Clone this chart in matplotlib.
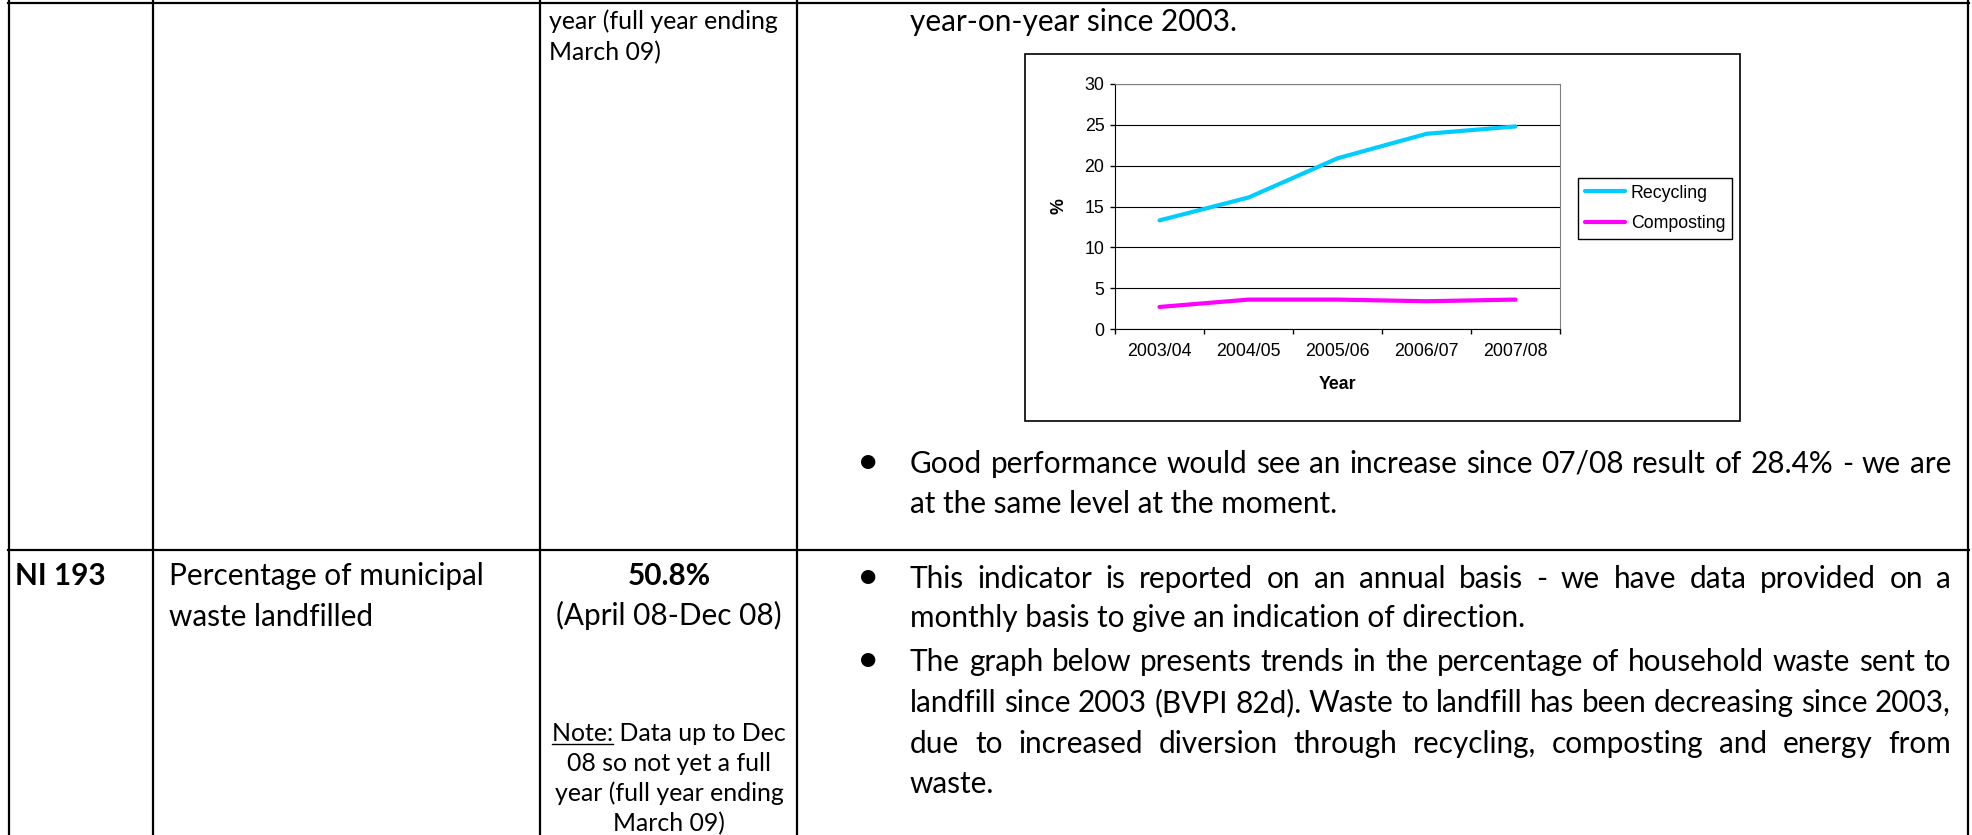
import matplotlib
matplotlib.use("Agg")
import matplotlib.pyplot as plt
from matplotlib.patches import Rectangle

# chart data
years = ["2003/04", "2004/05", "2005/06", "2006/07", "2007/08"]
recycling = [13.3, 16.1, 20.9, 23.9, 24.8]
composting = [2.7, 3.6, 3.6, 3.4, 3.6]
y_ticks = [0, 5, 10, 15, 20, 25, 30]

# table text
row1_target = ["year (full year ending", "March 09)"]
row1_comment_top = "year-on-year since 2003."
row1_comment = ["Good performance would see an increase since 07/08 result of 28.4% - we are",
                "at the same level at the moment."]
row2_id = "NI 193"
row2_name = ["Percentage of municipal", "waste landfilled"]
row2_value = "50.8%"
row2_period = "(April 08-Dec 08)"
row2_note = ["Data up to Dec", "08 so not yet a full", "year (full year ending", "March 09)"]
row2_comment = ["This indicator is reported on an annual basis - we have data provided on a",
                "monthly basis to give an indication of direction.",
                "The graph below presents trends in the percentage of household waste sent to",
                "landfill since 2003 (BVPI 82d).  Waste to landfill has been decreasing since 2003,",
                "due to increased diversion through recycling, composting and energy from",
                "waste."]

plt.rcParams['font.family'] = ['Liberation Sans', 'DejaVu Sans']
W, H = 1972, 835
fig = plt.figure(figsize=(W / 100, H / 100), dpi=100)
fig.patch.set_facecolor("white")
page = fig.add_axes([0, 0, 1, 1], zorder=0)
page.set_xlim(0, W)
page.set_ylim(H, 0)
page.axis("off")
rend = fig.canvas.get_renderer()
body = "Lato"


def width(s, size, family=body, **kw):
    t = page.text(0, 0, s, fontsize=size, family=family, **kw)
    w = t.get_window_extent(rend).width
    t.remove()
    return w


main_fs = 20 * 616 / width(row2_comment[1], 20)
note_fs = 20 * 229 / width(row2_note[2], 20)
chart_fs = 20 * 77 / width("Recycling", 20, family="Liberation Sans")


def put(x, y, s, size=None, ha="left", **kw):
    return page.text(x, y, s, fontsize=size or main_fs, family=body, ha=ha, va="baseline", **kw)


def justify(x0, x1, y, s):
    words = s.split()
    ws = [width(w, main_fs) for w in words]
    gap = (x1 - x0 - sum(ws)) / (len(words) - 1)
    x = x0
    for w, wd in zip(words, ws):
        put(x, y, w)
        x += wd + gap


def bullet(y):
    put(868, y, "\u2022", size=main_fs * 1.3, ha="center")


# table grid
lw = 1.6
for xv in [9, 153, 540, 797, 1968]:
    page.plot([xv, xv], [0, H], color="black", lw=lw)
for yv in [3, 550]:
    page.plot([8, 1969], [yv, yv], color="black", lw=lw)

# row 1
put(549, 29, row1_target[0], size=note_fs)
put(549, 60, row1_target[1], size=note_fs)
put(910, 31, row1_comment_top)
bullet(473)
justify(910, 1951, 473, row1_comment[0])
put(910, 513, row1_comment[1])

# row 2
put(15, 585, row2_id, fontweight="bold")
put(169, 585, row2_name[0])
put(169, 626, row2_name[1])
put(669, 585, row2_value, ha="center", fontweight="bold")
put(669, 625, row2_period, ha="center")
note_y = [741, 771, 801, 831]
full = "Note: " + row2_note[0]
fw = width(full, note_fs)
put(669, note_y[0], full, size=note_fs, ha="center")
nx = 669 - fw / 2
page.plot([nx, nx + width("Note:", note_fs)], [note_y[0] + 3, note_y[0] + 3], color="black", lw=1)
for yy, s in zip(note_y[1:], row2_note[1:]):
    put(669, yy, s, size=note_fs, ha="center")

comment_y = [588, 627, 671, 712, 753, 793]
justified = [True, False, True, True, True, False]
for yy, s, j in zip(comment_y, row2_comment, justified):
    if j:
        justify(910, 1951, yy, s)
    else:
        put(910, yy, s)
bullet(comment_y[0])
bullet(comment_y[2])

# chart frame
page.add_patch(Rectangle((1025, 54), 715, 367, fill=False, lw=1.2, edgecolor="black"))

ax = fig.add_axes([1115 / W, 1 - 329 / H, 445 / W, 245 / H], zorder=3)
xs = list(range(len(years)))
ax.plot(xs, recycling, color="#00CCFF", lw=3, label="Recycling", solid_capstyle="round")
ax.plot(xs, composting, color="#FF00FF", lw=3, label="Composting", solid_capstyle="round")
ax.set_xlim(-0.5, len(years) - 0.5)
ax.set_ylim(0, 30)
ax.set_yticks(y_ticks)
ax.set_xticks([i - 0.5 for i in range(len(years) + 1)])
ax.set_xticklabels([])
ax.set_xticks(xs, minor=True)
ax.set_xticklabels(years, minor=True)
ax.tick_params(axis="both", which="major", length=3.6, width=1, direction="out",
               labelsize=chart_fs, pad=4)
ax.tick_params(axis="x", which="minor", length=0, pad=10, labelsize=chart_fs)
ax.grid(axis="y", color="black", lw=0.8)
ax.set_axisbelow(True)
for s in ["top", "right"]:
    ax.spines[s].set_color("#808080")
for s in ["left", "bottom"]:
    ax.spines[s].set_color("black")
ax.set_xlabel("Year", fontweight="bold", fontsize=chart_fs)
ax.xaxis.set_label_coords(0.5, -(376 - 329) / 245)
ax.set_ylabel("%", fontweight="bold", fontsize=chart_fs)
ax.yaxis.set_label_coords(-(1115 - 1068) / 445, 0.5)

leg = ax.legend(loc="upper left", bbox_to_anchor=(1578 / W, 1 - 178 / H),
                bbox_transform=fig.transFigure, frameon=True, fancybox=False,
                edgecolor="black", framealpha=1, fontsize=chart_fs,
                handlelength=2.3, handletextpad=0.3, borderpad=0.37,
                labelspacing=0.75, borderaxespad=0)
leg.get_frame().set_linewidth(1)

fig.savefig("out.png", dpi=100, facecolor="white")
